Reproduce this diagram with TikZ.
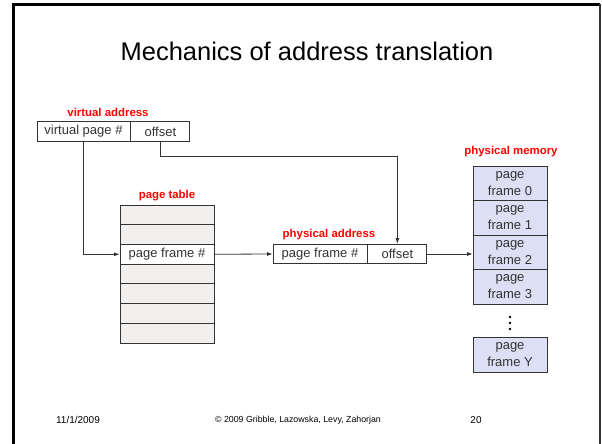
\documentclass[tikz,border=0pt]{standalone}
\usepackage{fontspec}
\setmainfont{Liberation Sans}
\usetikzlibrary{arrows.meta}
\definecolor{tblgray}{RGB}{242,240,238}
\definecolor{memblue}{RGB}{221,223,245}

\begin{document}
\begin{tikzpicture}[x=1pt,y=-1pt,draw/.append style={black!80,line width=0.8pt},>={Latex[length=5.5pt,width=4pt]},
  box/.style={draw=black,line width=0.9pt,minimum height=19.7pt,inner sep=0pt,font=\fontsize{13}{15}\selectfont},
  lbl/.style={text=red,font=\fontsize{11.4}{13}\selectfont\bfseries},
  frm/.style={box,fill=memblue,minimum width=74pt,minimum height=34.5pt,align=center,font=\fontsize{13}{17}\selectfont},
  foot/.style={font=\fontsize{10}{12}\selectfont}]
  \useasboundingbox (0,0) rectangle (602,444);
  \draw[black,line width=3.5pt] (13.5,444)--(13.5,4.5)--(599.5,4.5);
  \draw[black!80,line width=2pt] (599.5,4.5)--(599.5,444);
  \node[anchor=base,font=\fontsize{25.5}{30}\selectfont] (title) at (307,60) {Mechanics of address translation};
  \node[lbl] (valbl) at (108,112) {virtual address};
  \node[box,minimum width=93pt] (vpn) at (83.5,131.5) {virtual page \#};
  \node[box,minimum width=59pt,anchor=west] (off) at (vpn.east) {offset};
  \node[lbl] (ptlbl) at (167,196) {page table};
  \foreach\i in {1,2,4,5,6,7}
    \node[box,minimum width=94pt,fill=tblgray] (pt\i) at (167,205+19.71*\i-9.86) {};
  \node[box,minimum width=94pt,fill=white] (pf) at (167,205+19.71*3-9.86) {page frame \#};
  \node[lbl] (palbl) at (329,235) {physical address};
  \node[box,minimum width=94pt] (ppn) at (320,254) {page frame \#};
  \node[box,minimum width=59pt,anchor=west] (poff) at (ppn.east) {offset};
  \node[lbl] (pmlbl) at (511,152) {physical memory};
  \foreach\i in {0,...,3}
    \node[frm] (fr\i) at (510,183.25+34.5*\i) {page\\frame \i};
  \foreach\y in {317,323,329}
    \fill (510,\y) circle (1.4pt);
  \node[frm] (frY) at (510,355) {page\\frame Y};
  \draw[->] (vpn.south) |- (pf.west);
  \draw[->] (off.south) -- ++(0,15) -| (poff.north);
  \draw[->] (pf.east) -- (ppn.west);
  \draw[->] (poff.east) -- (poff.east -| fr2.west);
  \node[foot] (date) at (78,420) {11/1/2009};
  \node[font=\fontsize{8.8}{11}\selectfont] (copy) at (298,420) {© 2009 Gribble, Lazowska, Levy, Zahorjan};
  \node[foot] (num) at (476,420) {20};
\end{tikzpicture}
\end{document}
